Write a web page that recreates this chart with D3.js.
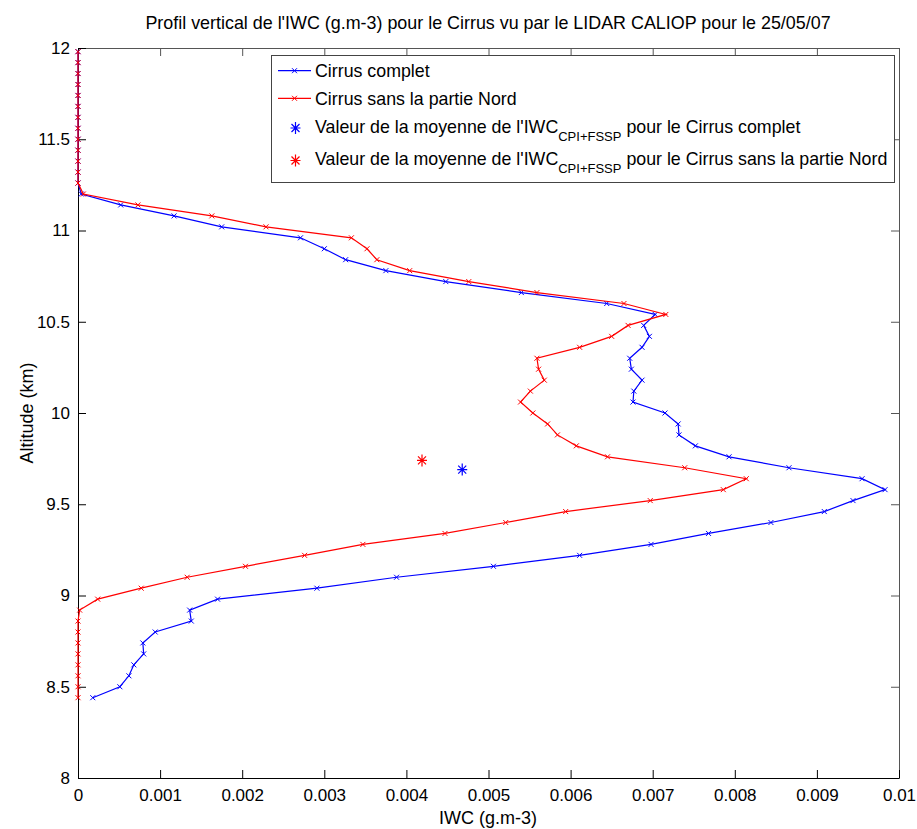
<!DOCTYPE html>
<html>
<head>
<meta charset="utf-8">
<script src="https://cdn.jsdelivr.net/npm/d3@7/dist/d3.min.js"></script>
<style>
  body { margin: 0; background: #fff; }
  svg { display: block; }
  text { font-family: "Liberation Sans", Arial, Helvetica, sans-serif; fill: #000; }
</style>
</head>
<body>
<svg id="chart" width="917" height="829"></svg>
<script>
// CALIOP vertical levels (km), 60 m spacing
const altitudes = [
  11.98, 11.92, 11.86, 11.80, 11.74, 11.68, 11.62, 11.56, 11.50, 11.44,
  11.38, 11.32, 11.26, 11.20, 11.14, 11.08, 11.02, 10.96, 10.90, 10.84,
  10.78, 10.72, 10.66, 10.60, 10.54, 10.48, 10.42, 10.36, 10.30, 10.24,
  10.18, 10.12, 10.06, 10.00, 9.94, 9.88, 9.82, 9.76, 9.70, 9.64,
  9.58, 9.52, 9.46, 9.40, 9.34, 9.28, 9.22, 9.16, 9.10, 9.04,
  8.98, 8.92, 8.86, 8.80, 8.74, 8.68, 8.62, 8.56, 8.50, 8.44
];

// IWC profile (g.m-3), whole cirrus
const iwcComplet = [
  0, 0, 0, 0, 0, 0, 0, 0, 0, 0,
  0, 0, 0, 0.00004, 0.00052, 0.00117, 0.00175, 0.00271, 0.00300, 0.00326,
  0.00375, 0.00448, 0.00540, 0.00644, 0.00703, 0.00689, 0.00696, 0.00687, 0.00672, 0.00674,
  0.00687, 0.00677, 0.00676, 0.00715, 0.00731, 0.00732, 0.00752, 0.00793, 0.00866, 0.00955,
  0.00983, 0.00944, 0.00909, 0.00844, 0.00768, 0.00698, 0.00611, 0.00506, 0.00388, 0.00291,
  0.00170, 0.00136, 0.00138, 0.00094, 0.00079, 0.00080, 0.00068, 0.00062, 0.00051, 0.00018
];

// IWC profile (g.m-3), cirrus without its northern part
const iwcSansNord = [
  0, 0, 0, 0, 0, 0, 0, 0, 0, 0,
  0, 0, 0, 0.000065, 0.00073, 0.00163, 0.00229, 0.00333, 0.00352, 0.00364,
  0.00404, 0.00476, 0.00559, 0.00665, 0.00716, 0.00670, 0.00650, 0.00611, 0.00559, 0.00561,
  0.00568, 0.00551, 0.00539, 0.00554, 0.00572, 0.00584, 0.00607, 0.00645, 0.00739, 0.00814,
  0.00786, 0.00697, 0.00594, 0.00521, 0.00447, 0.00347, 0.00276, 0.00204, 0.00133, 0.00077,
  0.00024, 0.00002, 0, 0, 0, 0, 0, 0, 0, 0
];

// Mean IWC (CPI+FSSP) and its altitude: [complet, sans partie Nord]
const meanIwc = [0.00468, 0.00419];
const meanAlt = [9.69, 9.74];

const xTicks = [0, 0.001, 0.002, 0.003, 0.004, 0.005, 0.006, 0.007, 0.008, 0.009, 0.01];
const xTickLabels = ["0", "0.001", "0.002", "0.003", "0.004", "0.005", "0.006", "0.007", "0.008", "0.009", "0.01"];
const yTicks = [8, 8.5, 9, 9.5, 10, 10.5, 11, 11.5, 12];
const yTickLabels = ["8", "8.5", "9", "9.5", "10", "10.5", "11", "11.5", "12"];

const seriesNames = ["Cirrus complet", "Cirrus sans la partie Nord"];
const seriesColors = ["#0000ff", "#ff0000"];
const meanLabelStart = "Valeur de la moyenne de l'IWC";
const meanLabelSub = "CPI+FSSP";
const meanLabelEnds = [" pour le Cirrus complet", " pour le Cirrus sans la partie Nord"];

const titleText = "Profil vertical de l'IWC (g.m-3) pour le Cirrus vu par le LIDAR CALIOP pour le 25/05/07";
const xLabel = "IWC (g.m-3)";
const yLabel = "Altitude (km)";

const svg = d3.select("#chart");
const plot = { left: 78, right: 899, top: 48, bottom: 778 };

const x = d3.scaleLinear().domain([0, 0.01]).range([plot.left, plot.right]);
const y = d3.scaleLinear().domain([8, 12]).range([plot.bottom, plot.top]);

svg.append("rect").attr("width", 917).attr("height", 829).attr("fill", "#fff");

// Axes: ticks point inward on all four sides
const tickLen = 8;
const fmtX = (d, i) => xTickLabels[i];
const fmtY = (d, i) => yTickLabels[i];

function styleAxis(g, color) {
  g.selectAll("path.domain").attr("stroke", color).attr("stroke-width", 1);
  g.selectAll(".tick line").attr("stroke", color).attr("stroke-width", 1);
  g.selectAll(".tick text").attr("font-size", 17).attr("fill", "#000")
    .style("font-family", "'Liberation Sans', Arial, sans-serif");
}

svg.append("g")
  .attr("transform", `translate(0,${plot.top})`)
  .call(d3.axisTop(x).tickValues(xTicks).tickFormat("").tickSizeInner(-tickLen).tickSizeOuter(0))
  .call(g => styleAxis(g, "#555"));

svg.append("g")
  .attr("transform", `translate(${plot.right},0)`)
  .call(d3.axisRight(y).tickValues(yTicks).tickFormat("").tickSizeInner(-tickLen).tickSizeOuter(0))
  .call(g => styleAxis(g, "#555"));

svg.append("g")
  .attr("transform", `translate(0,${plot.bottom})`)
  .call(d3.axisBottom(x).tickValues(xTicks).tickFormat(fmtX).tickSizeInner(-tickLen).tickSizeOuter(0).tickPadding(11))
  .call(g => styleAxis(g, "#000"));

svg.append("g")
  .attr("transform", `translate(${plot.left},0)`)
  .call(d3.axisLeft(y).tickValues(yTicks).tickFormat(fmtY).tickSizeInner(-tickLen).tickSizeOuter(0).tickPadding(8))
  .call(g => styleAxis(g, "#000"));

// Profiles
const series = [iwcComplet, iwcSansNord].map((vals, s) => ({
  name: seriesNames[s],
  color: seriesColors[s],
  points: vals.map((v, i) => ({ iwc: v, alt: altitudes[i] }))
}));

const line = d3.line().x(d => x(d.iwc)).y(d => y(d.alt));
const crossPath = "M-2.5,-2.5L2.5,2.5M-2.5,2.5L2.5,-2.5";
const starPath = "M-5,0L5,0M0,-6L0,6M-4,-4L4,4M-4,4L4,-4";

series.forEach(s => {
  const g = svg.append("g");
  g.append("path").datum(s.points)
    .attr("d", line).attr("fill", "none")
    .attr("stroke", s.color).attr("stroke-width", 1.2);
  g.selectAll("path.mk").data(s.points).enter().append("path")
    .attr("class", "mk")
    .attr("transform", d => `translate(${x(d.iwc)},${y(d.alt)})`)
    .attr("d", crossPath).attr("stroke", s.color).attr("stroke-width", 1).attr("fill", "none");
});

// Mean values
meanIwc.forEach((v, i) => {
  svg.append("path")
    .attr("transform", `translate(${x(v)},${y(meanAlt[i])})`)
    .attr("d", starPath).attr("stroke", seriesColors[i]).attr("stroke-width", 1.2).attr("fill", "none");
});

// Title and axis labels
svg.append("text").attr("x", 488).attr("y", 29).attr("text-anchor", "middle")
  .attr("font-size", 17.9).text(titleText);
svg.append("text").attr("x", 488).attr("y", 824).attr("text-anchor", "middle")
  .attr("font-size", 18).text(xLabel);
svg.append("text").attr("transform", "translate(33,413) rotate(-90)").attr("text-anchor", "middle")
  .attr("font-size", 18).text(yLabel);

// Legend
const legend = svg.append("g");
legend.append("rect")
  .attr("x", 271.5).attr("y", 55.5).attr("width", 623).attr("height", 127)
  .attr("fill", "#fff").attr("stroke", "#444").attr("stroke-width", 1);

const rowY = [70.7, 98.3, 126.5, 159];
const textX = 315;
const legendFont = 17.8;
seriesNames.forEach((name, i) => {
  legend.append("line").attr("x1", 278).attr("x2", 311).attr("y1", rowY[i]).attr("y2", rowY[i])
    .attr("stroke", seriesColors[i]).attr("stroke-width", 1.2);
  legend.append("path").attr("transform", `translate(294.5,${rowY[i]})`)
    .attr("d", crossPath).attr("stroke", seriesColors[i]).attr("fill", "none");
  legend.append("text").attr("x", textX).attr("y", rowY[i] + 6.3)
    .attr("font-size", legendFont).text(name);
});
meanLabelEnds.forEach((end, i) => {
  const yy = rowY[2 + i];
  legend.append("path").attr("transform", `translate(295.5,${yy + 1.5})`)
    .attr("d", starPath).attr("stroke", seriesColors[i]).attr("stroke-width", 1.2).attr("fill", "none");
  const t = legend.append("text").attr("x", textX).attr("y", yy + 6.3).attr("font-size", legendFont);
  t.append("tspan").text(meanLabelStart);
  t.append("tspan").attr("font-size", 13).attr("dy", 8).text(meanLabelSub);
  t.append("tspan").attr("dy", -8).text(end);
});
</script>
</body>
</html>
